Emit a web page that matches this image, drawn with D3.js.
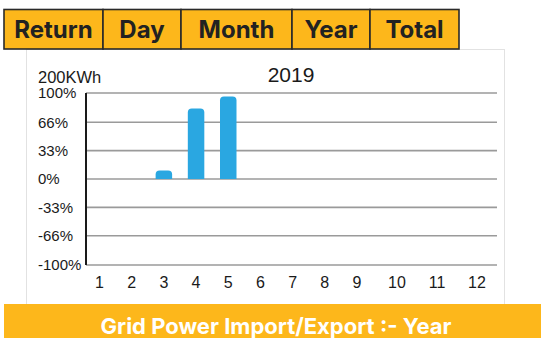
<!DOCTYPE html>
<html>
<head>
<meta charset="utf-8">
<script src="https://cdn.jsdelivr.net/npm/d3@7"></script>
<style>
  html, body { margin: 0; padding: 0; background: #fff; }
  svg { display: block; }
</style>
</head>
<body>
<svg id="chart" width="541" height="338"></svg>
<script>
// Tab labels across the top and the footer caption
const tabs = ["Return", "Day", "Month", "Year", "Total"];
const footerTitle = "Grid Power Import/Export :- Year";

// Chart content
const chartTitle = "2019";
const unitLabel = "200KWh";
const months = [1, 2, 3, 4, 5, 6, 7, 8, 9, 10, 11, 12];
const percentValues = [0, 0, 10, 82, 96, 0, 0, 0, 0, 0, 0, 0];
const yTicks = [100, 66, 33, 0, -33, -66, -100];
const yTickLabels = ["100%", "66%", "33%", "0%", "-33%", "-66%", "-100%"];

// Layout
const W = 541, H = 338;
const orange = "#FDB71B";
const tabEdges = [4, 103, 181, 292, 370, 459];
const tabTop = 9.5, tabBottom = 49;
const plot = { left: 86, right: 497, top: 93, bottom: 265 };
const uiFont = "Inter, Roboto, 'Noto Sans', sans-serif";
const chartFont = "'Liberation Sans', Arial, sans-serif";

const svg = d3.select("#chart");

// Chart panel
svg.append("rect")
  .attr("x", 26.5).attr("y", 49.5)
  .attr("width", 478).attr("height", 256)
  .attr("fill", "#fff").attr("stroke", "#e2e2e2").attr("stroke-width", 1);

// Tabs
const tabG = svg.append("g");
tabs.forEach((t, i) => {
  const x0 = tabEdges[i], x1 = tabEdges[i + 1];
  tabG.append("rect")
    .attr("x", x0).attr("y", tabTop)
    .attr("width", x1 - x0).attr("height", tabBottom - tabTop)
    .attr("fill", orange).attr("stroke", "#2a2a2a").attr("stroke-width", 1.6);
  tabG.append("text")
    .attr("x", (x0 + x1) / 2).attr("y", (tabTop + tabBottom) / 2)
    .attr("dy", "0.36em")
    .attr("text-anchor", "middle")
    .attr("font-family", uiFont)
    .attr("font-weight", 700)
    .attr("font-size", 24)
    .attr("fill", "#222")
    .text(t);
});

// Scales
const x = d3.scaleLinear().domain([1, 9, 12]).range([99.5, 357, 477]);
const y = d3.scaleLinear().domain([-100, 100]).range([plot.bottom, plot.top]);
const barW = 16.5;

// Grid lines
svg.append("g")
  .selectAll("line")
  .data(yTicks)
  .join("line")
  .attr("x1", plot.left).attr("x2", plot.right)
  .attr("y1", d => y(d)).attr("y2", d => y(d))
  .attr("stroke", "#9a9a9a").attr("stroke-width", 1.6);

// Y axis line
svg.append("line")
  .attr("x1", plot.left).attr("x2", plot.left)
  .attr("y1", plot.top).attr("y2", plot.bottom)
  .attr("stroke", "#1a1a1a").attr("stroke-width", 2);

// Y tick labels
svg.append("g")
  .selectAll("text")
  .data(yTicks)
  .join("text")
  .attr("x", 38)
  .attr("y", d => y(d))
  .attr("dy", "0.36em")
  .attr("font-family", chartFont)
  .attr("font-size", 15)
  .attr("fill", "#1a1a1a")
  .text((d, i) => yTickLabels[i]);

// X tick labels
svg.append("g")
  .selectAll("text")
  .data(months)
  .join("text")
  .attr("x", d => x(d))
  .attr("y", 288)
  .attr("text-anchor", "middle")
  .attr("font-family", chartFont)
  .attr("font-size", 16)
  .attr("fill", "#1a1a1a")
  .text(d => d);

// Bars with rounded tops
const r = 4;
function barPath(m, v) {
  const x0 = x(m) - barW / 2, x1 = x(m) + barW / 2;
  const y0 = y(0), y1 = y(v);
  const rr = Math.min(r, (y0 - y1) / 2);
  return `M${x0},${y0}V${y1 + rr}Q${x0},${y1} ${x0 + rr},${y1}H${x1 - rr}Q${x1},${y1} ${x1},${y1 + rr}V${y0}Z`;
}
svg.append("g")
  .selectAll("path")
  .data(months.map((m, i) => ({ m, v: percentValues[i] })).filter(d => d.v > 0))
  .join("path")
  .attr("d", d => barPath(d.m, d.v))
  .attr("fill", "#2AA7E1");

// Unit label and title
svg.append("text")
  .attr("x", 38).attr("y", 83)
  .attr("font-family", chartFont)
  .attr("font-size", 16.5)
  .attr("fill", "#1a1a1a")
  .text(unitLabel);

svg.append("text")
  .attr("x", 291).attr("y", 82)
  .attr("text-anchor", "middle")
  .attr("font-family", chartFont)
  .attr("font-size", 21)
  .attr("fill", "#1a1a1a")
  .text(chartTitle);

// Footer bar
svg.append("rect")
  .attr("x", 4).attr("y", 304)
  .attr("width", W - 4).attr("height", H - 304)
  .attr("fill", orange);
svg.append("text")
  .attr("x", 276).attr("y", 326)
  .attr("dy", "0.36em")
  .attr("text-anchor", "middle")
  .attr("font-family", uiFont)
  .attr("font-weight", 700)
  .attr("font-size", 22)
  .attr("fill", "#fff")
  .text(footerTitle);
</script>
</body>
</html>
